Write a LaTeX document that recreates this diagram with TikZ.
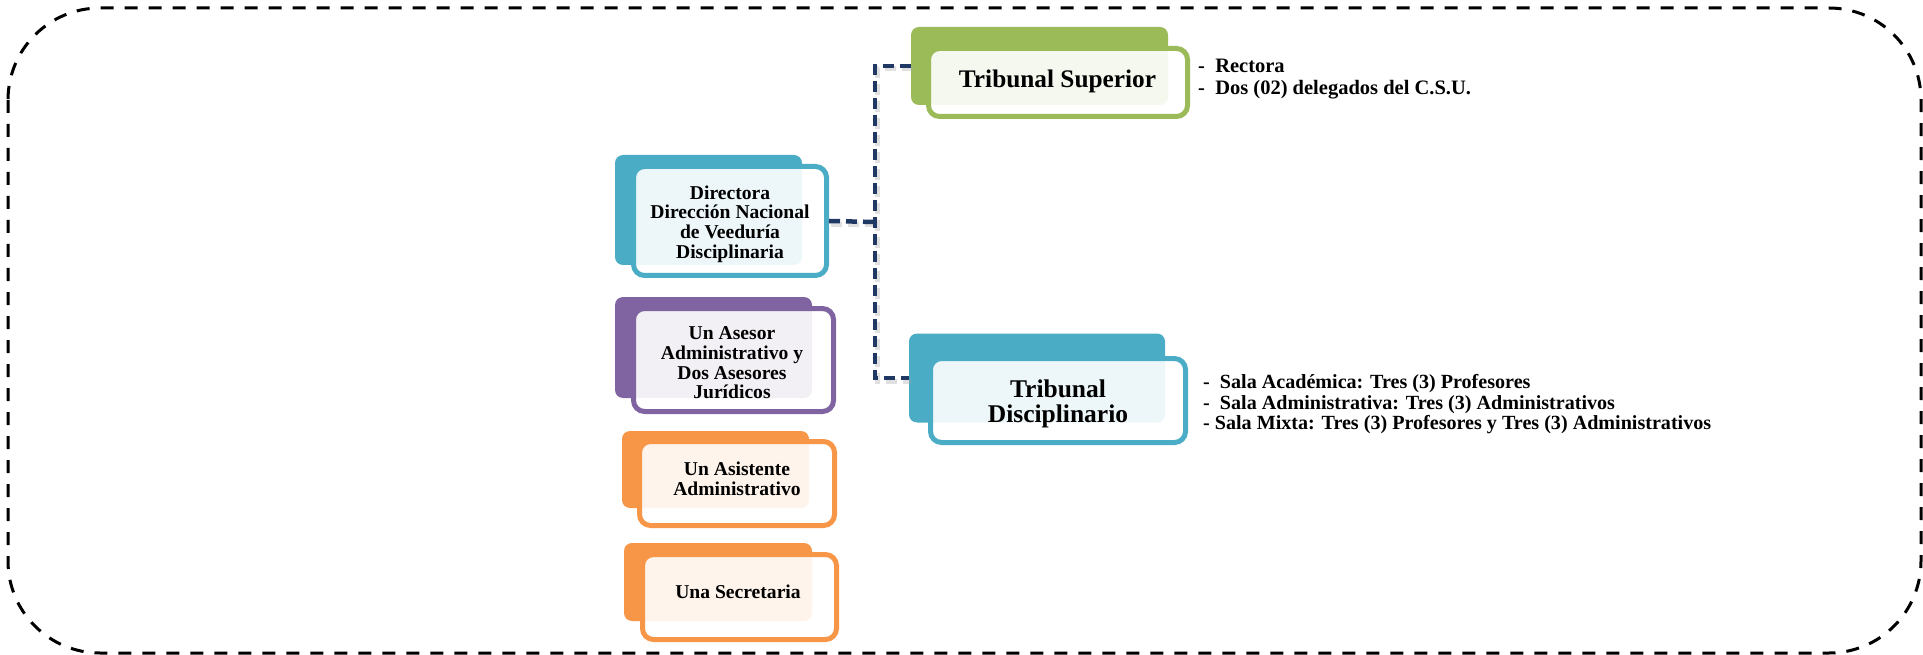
\documentclass[tikz,border=0pt]{standalone}
\usepackage{fontspec}
\setmainfont{Liberation Serif}
\definecolor{cteal}{RGB}{75,172,198}
\definecolor{cpurple}{RGB}{128,100,162}
\definecolor{corange}{RGB}{247,150,70}
\definecolor{cgreen}{RGB}{155,187,89}
\definecolor{cnavy}{RGB}{31,56,100}
\tikzset{
  backbox/.style={rectangle, rounded corners=8pt, fill=#1, draw=none, inner sep=0pt},
  frontbox/.style={rectangle, rounded corners=11pt, draw=#1, line width=5pt, fill=white, fill opacity=0.9, draw opacity=1, inner sep=0pt},
  lbl/.style={inner sep=0pt, align=center, font=\bfseries\fontsize{19.6}{19.6}\selectfont},
  conn/.style={draw=cnavy, line width=4.5pt, dash pattern=on 11pt off 6pt},
  connshadow/.style={draw=black!35, line width=5pt, opacity=0.35, dash pattern=on 11pt off 6pt},
  frame/.style={draw=black, line width=3pt, dash pattern=on 13pt off 11pt, rounded corners=92pt}
}
\begin{document}
\begin{tikzpicture}[x=1pt,y=-1pt]
\useasboundingbox (0,0) rectangle (1923,655);
\path[frame] (8,8) rectangle (1921,653);

% back boxes
\node[backbox=cteal, minimum width=187pt, minimum height=110pt] (dirb) at (708.5,210) {};
\node[backbox=cpurple, minimum width=197pt, minimum height=101pt] (asesb) at (713.5,347.5) {};
\node[backbox=corange, minimum width=187pt, minimum height=77pt] (asisb) at (715.5,469.5) {};
\node[backbox=corange, minimum width=188pt, minimum height=78pt] (secb) at (718,582) {};
\node[backbox=cgreen, minimum width=257pt, minimum height=78pt] (tsb) at (1039.5,66) {};
\node[backbox=cteal, minimum width=256pt, minimum height=89pt] (tdb) at (1037,378) {};

% connectors
\coordinate (jx) at (875,222);
\begin{scope}[transform canvas={xshift=2pt,yshift=-3pt}]
\draw[connshadow] (tsb.west) -| (jx) |- (tdb.west);
\draw[connshadow] (829,222) -- (jx);
\end{scope}
\draw[conn] (tsb.west) -| (jx) |- (tdb.west);

% front boxes
\node[frontbox=cteal, minimum width=193pt, minimum height=109pt] (dir) at (730,221) {};
\draw[conn] (dir.east) -- (jx);
\node[frontbox=cpurple, minimum width=200pt, minimum height=103pt] (ases) at (733.5,360) {};
\node[frontbox=corange, minimum width=195pt, minimum height=84pt] (asis) at (737,483.5) {};
\node[frontbox=corange, minimum width=194pt, minimum height=85pt] (sec) at (739.5,597) {};
\node[frontbox=cgreen, minimum width=259pt, minimum height=68pt] (ts) at (1058,82.5) {};
\node[frontbox=cteal, minimum width=255pt, minimum height=84pt] (td) at (1058,400.5) {};

% texts
\node[lbl] (dirt) at (730,224) {Directora\\Dirección Nacional\\de Veeduría\\Disciplinaria};
\node[lbl] (asest) at (732,363) {Un Asesor\\Administrativo y\\Dos Asesores\\Jurídicos};
\node[lbl] (asist) at (737,479) {Un Asistente\\Administrativo};
\node[lbl] (sect) at (738,592) {Una Secretaria};
\node[lbl, anchor=base, font=\bfseries\fontsize{25.3}{25}\selectfont] (tst) at (1057.5,88) {Tribunal Superior};
\node[lbl, font=\bfseries\fontsize{25.5}{25}\selectfont] (tdt) at (1058,404) {Tribunal\\Disciplinario};

\node[inner sep=0pt, anchor=west, align=left, font=\bfseries\fontsize{20.5}{22.5}\selectfont] (tsl) at (1198,79) {-\ \ Rectora\\-\ \ Dos (02) delegados del C.S.U.};
\node[inner sep=0pt, anchor=west, align=left, font=\bfseries\fontsize{20.1}{20.5}\selectfont] (tdl) at (1203,404.5) {-\ \ Sala Académica: Tres (3) Profesores\\-\ \ Sala Administrativa: Tres (3) Administrativos\\- Sala Mixta: Tres (3) Profesores y Tres (3) Administrativos};
\end{tikzpicture}
\end{document}
